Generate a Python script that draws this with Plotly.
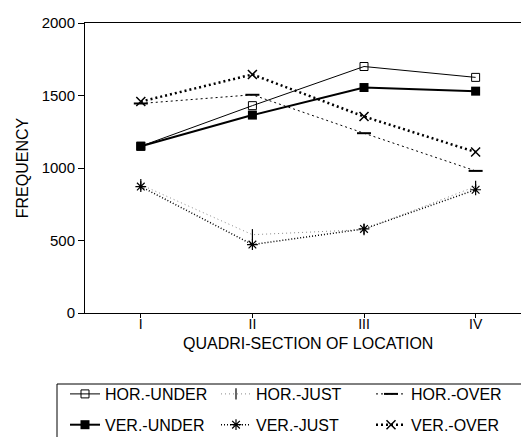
import plotly.graph_objects as go

categories = ["I", "II", "III", "IV"]
x_pos = [1, 2, 3, 4]

hor_under = [1150, 1430, 1700, 1625]
hor_just = [885, 540, 575, 873]
hor_over = [1445, 1505, 1240, 980]
ver_under = [1150, 1365, 1555, 1530]
ver_just = [872, 472, 580, 850]
ver_over = [1458, 1645, 1355, 1110]

y_ticks = [0, 500, 1000, 1500, 2000]

# (name, values, line style, marker style, legend column)
series = [
    ("HOR.-UNDER", hor_under, dict(color="black", width=1, dash="solid"),
     dict(symbol="square-open", size=8, color="black", line=dict(width=1)), "legend"),
    ("HOR.-JUST", hor_just, dict(color="#8a8a8a", width=1, dash="1px,3px"),
     dict(symbol="line-ns-open", size=8, color="black", line=dict(width=1.2)), "legend2"),
    ("HOR.-OVER", hor_over, dict(color="black", width=1, dash="2px,3px"),
     dict(symbol="line-ew-open", size=10, color="black", line=dict(width=2)), "legend3"),
    ("VER.-UNDER", ver_under, dict(color="black", width=2, dash="solid"),
     dict(symbol="square", size=9, color="black"), "legend"),
    ("VER.-JUST", ver_just, dict(color="black", width=1.5, dash="1px,2px"),
     dict(symbol="asterisk-open", size=9, color="black", line=dict(width=1.2)), "legend2"),
    ("VER.-OVER", ver_over, dict(color="black", width=2.5, dash="2px,3px"),
     dict(symbol="x-thin-open", size=9, color="black", line=dict(width=1.5)), "legend3"),
]

fig = go.Figure()
for name, vals, ln, mk, lg in series:
    fig.add_trace(go.Scatter(x=x_pos, y=vals, name=name, mode="lines+markers",
                             line=ln, marker=mk, legend=lg, legendgroup=name))

font_family = "Liberation Sans, Arial, sans-serif"
W, H = 529, 437
L, T, B = 77, 15, 132
PW, PH = W - L, H - T - B


def px_x(px):
    return (px - L) / PW


def px_y(py):
    return (H - B - py) / PH


leg_font = dict(family=font_family, size=16, color="black")
leg_common = dict(orientation="v", xanchor="left", yanchor="top", y=px_y(369),
                  font=leg_font, bgcolor="rgba(0,0,0,0)", borderwidth=0,
                  traceorder="grouped", tracegroupgap=7, itemwidth=30)

box_line = dict(color="black", width=1)
fig.update_layout(
    width=W, height=H,
    margin=dict(l=L, r=0, t=T, b=B),
    paper_bgcolor="white", plot_bgcolor="white",
    font=dict(family=font_family, size=15, color="black"),
    showlegend=True,
    legend=dict(x=px_x(57), **leg_common),
    legend2=dict(x=px_x(208), **leg_common),
    legend3=dict(x=px_x(363), **leg_common),
    xaxis=dict(
        range=[0.5, 4.55], tickmode="array", tickvals=x_pos, ticktext=categories,
        showgrid=False, zeroline=False, showline=True, linecolor="black", linewidth=1,
        mirror=True, ticks="outside", ticklen=4, tickcolor="black", automargin=False,
        ticklabelstandoff=-6,
        tickfont=dict(size=14),
    ),
    yaxis=dict(
        range=[0, 2000], tickmode="array", tickvals=y_ticks,
        showgrid=False, zeroline=False, showline=True, linecolor="black", linewidth=1,
        ticks="outside", ticklen=6, tickcolor="black", automargin=False,
        title=dict(text="FREQUENCY", standoff=9, font=dict(size=16)),
        tickfont=dict(size=15),
    ),
    annotations=[dict(text="QUADRI-SECTION OF LOCATION", xref="paper", yref="paper",
                      x=px_x(300), y=px_y(335), xanchor="center", yanchor="middle",
                      showarrow=False, font=dict(size=16))],
    shapes=[
        dict(type="line", xref="paper", yref="paper", x0=px_x(49), x1=px_x(520),
             y0=px_y(376), y1=px_y(376), line=box_line),
        dict(type="line", xref="paper", yref="paper", x0=px_x(49), x1=px_x(49),
             y0=px_y(376), y1=px_y(440), line=box_line),
        dict(type="line", xref="paper", yref="paper", x0=px_x(520), x1=px_x(520),
             y0=px_y(376), y1=px_y(440), line=box_line),
        dict(type="line", xref="paper", yref="paper", x0=px_x(49), x1=px_x(520),
             y0=px_y(434), y1=px_y(434),
             line=dict(color="#999999", width=1, dash="12px,10px")),
    ],
)

fig.write_html("out.html")
